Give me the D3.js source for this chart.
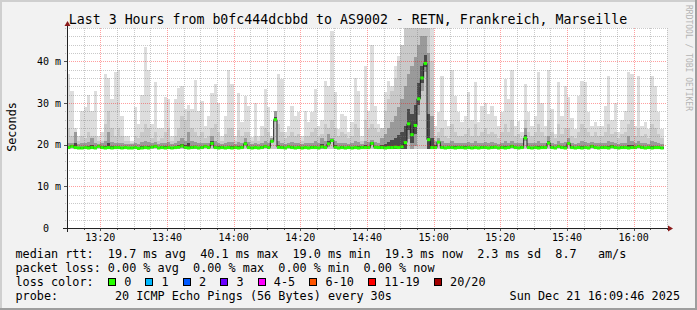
<!DOCTYPE html>
<html>
<head>
<meta charset="utf-8">
<script src="https://cdn.jsdelivr.net/npm/d3@7"></script>
<style>
  html, body { margin: 0; padding: 0; background: #f2f2f2; }
  svg { display: block; }
  text { font-family: "DejaVu Sans Mono", monospace; white-space: pre; }
</style>
</head>
<body>
<svg id="chart" width="697" height="310"></svg>
<script>
const W = 697, H = 310;
const plot = {left: 67, right: 667, top: 28, bottom: 228};

const startTime = new Date(2025, 11, 21, 13, 10);
const endTime = new Date(2025, 11, 21, 16, 10);

// one value per minute, starting 13:10
const maxRtt = [
  37, 33, 24, 22, 28, 29, 32, 28, 33, 22, 23, 37, 36, 31, 37.5,
  38, 27, 22, 22, 21, 29, 25, 32, 43.5, 38, 25, 35, 24, 24, 31.5,
  31, 22, 31, 33.5, 34, 28.5, 29.5, 28.5, 35.5, 28, 30.5, 24.5, 27, 32.5, 34.5,
  30, 22, 27, 38, 34.5, 22, 32.5, 25.4, 31.8, 29.4, 21.8, 30, 22, 24.5, 33.4,
  29, 22, 27, 37, 35.8, 23, 24.5, 29.4, 27, 27.8, 22, 28.2, 25.4, 27.8, 33.4,
  24.5, 26, 35.4, 34, 47.4, 32.6, 23.8, 27.4, 27, 23, 25.4, 36, 33, 22, 39,
  28, 44, 29.4, 25, 22, 32.6, 35.4, 34, 39, 41.4, 43.8, 49, 49, 49, 49,
  49, 49, 49, 49, 49, 24.5, 27.8, 36.6, 26, 24.5, 38, 31.8, 27.8, 25.4, 27,
  32.6, 26, 35, 25.4, 29.4, 30, 27.4, 29.4, 27, 24.5, 27.8, 35.8, 31, 38, 24.5,
  25.8, 23, 34.6, 27.8, 24.5, 27, 37.4, 30, 24.5, 38, 28.6, 22.5, 35, 27, 34,
  31.4, 26.5, 23.8, 31.8, 35.4, 35, 27.8, 24.5, 25.4, 24.5, 24.5, 29.4, 36.6, 26, 30,
  23, 26, 28.2, 37.4, 37, 24.5, 36.6, 24.5, 25.4, 23.8, 36.6, 34, 27.8, 23.8
];
const midRtt = [
  24, 22, 23, 21, 22, 21.5, 23, 22, 22, 21, 21, 25, 28, 24, 22,
  24, 22, 21, 21, 20.5, 22, 21.5, 23, 25, 24, 21.5, 23, 21, 21.5, 23,
  24, 21, 22, 24, 27, 26, 28, 24, 23, 22, 23, 21.5, 22, 24, 25,
  23, 21, 22.5, 24, 24, 21, 23.5, 22, 23, 23, 21, 22, 21, 22, 24,
  23, 21, 27.5, 25, 23, 21.5, 22, 23, 22, 22.5, 21, 22, 22, 23, 24,
  22, 22.5, 25, 24, 26, 24, 22, 23, 22.5, 21.5, 22, 25, 24, 21, 26,
  24, 25, 24, 23, 24, 28, 31, 33, 36, 40, 44, 49, 49, 49, 49,
  49, 49, 49, 49, 40, 22, 23, 24, 22, 21.5, 25, 23, 22, 22, 22.5,
  24, 22, 25, 22, 23, 24, 22.5, 23, 22.5, 21.5, 23, 25, 23, 26, 22,
  22.5, 21.5, 26, 23, 22, 23, 25, 23, 22, 26, 23, 21.5, 25, 22.5, 24,
  24, 22, 21.5, 23, 25, 24, 23, 22, 23, 22, 22, 23, 25, 22.5, 23,
  21.5, 22.5, 23, 25, 26, 22, 24, 22, 22.5, 21.5, 25, 24, 22.5, 21.5
];
const coreRtt = [
  20.3, 20.5, 23, 20.2, 20.4, 20.3, 20.6, 21.5, 20.4, 20.2, 20.3, 20.8, 23, 20.6, 20.3,
  20.5, 20.3, 20.2, 20.2, 20.1, 20.4, 20.2, 20.6, 20.8, 20.6, 20.3, 20.7, 20.2, 20.3, 20.5,
  20.6, 20.2, 20.4, 20.8, 21.5, 21, 23, 20.8, 20.6, 20.3, 20.5, 20.3, 20.4, 22, 20.8,
  20.5, 20.2, 20.4, 20.7, 20.6, 20.2, 20.6, 20.4, 21.5, 20.6, 20.2, 20.4, 20.2, 20.3, 20.8,
  20.5, 21.5, 28, 21, 20.5, 20.2, 20.4, 20.6, 20.3, 20.5, 20.2, 20.3, 20.3, 20.5, 20.8,
  20.3, 21.5, 20.8, 22.5, 21.5, 20.8, 20.3, 20.5, 20.4, 20.2, 20.4, 20.8, 20.6, 20.2, 21,
  20.6, 21.2, 20.6, 20.5, 21.5, 22.5, 24, 25.5, 27, 29, 31, 34, 37, 39, 41,
  44, 46, 46, 42, 27, 21, 21.5, 20.8, 20.4, 20.3, 20.8, 20.5, 20.3, 20.4, 20.5,
  20.7, 20.3, 20.8, 20.3, 20.5, 20.7, 20.4, 20.6, 20.5, 20.2, 20.5, 20.8, 20.5, 21, 20.3,
  20.4, 20.3, 24, 20.5, 20.3, 20.5, 20.8, 20.5, 20.3, 22, 20.5, 20.2, 21, 20.4, 20.7,
  21.5, 20.3, 20.2, 20.5, 20.8, 20.7, 20.4, 20.6, 20.4, 20.3, 20.3, 20.5, 20.8, 20.6, 20.5,
  20.2, 20.4, 20.5, 22, 21, 20.3, 20.8, 20.3, 20.4, 20.2, 20.8, 20.6, 20.4, 20.2
];
const medianRtt = [
  19.3, 19.6, 19.3, 19.2, 19.2, 19.3, 19.2, 19.3, 19.2, 19.6, 19.3, 19.2, 19.3, 19.2, 19.3,
  19.3, 19.2, 19.3, 19.2, 19.2, 19.3, 19.1, 19.2, 19.3, 19.2, 19.4, 19.6, 19.2, 19.3, 19.2,
  19.3, 19.2, 19.3, 19.4, 19.7, 19.3, 19.2, 19.3, 19.4, 19.2, 19.3, 19.6, 19.3, 20.3, 19.3,
  19.2, 19.3, 19.2, 19.3, 19.2, 19.3, 19.2, 19.3, 20.2, 19.3, 19.2, 19.3, 19.2, 19.3, 19.6,
  19.3, 20.8, 26.0, 19.4, 19.3, 19.2, 19.5, 19.3, 19.2, 19.3, 19.2, 19.3, 19.2, 19.3, 19.3,
  19.2, 19.5, 19.3, 20.2, 21.0, 19.4, 19.2, 19.3, 19.2, 19.3, 19.2, 19.3, 19.2, 19.3, 19.3,
  19.3, 20.3, 19.4, 19.3, 19.3, 19.2, 19.3, 19.3, 19.4, 19.3, 19.5, 20.5, 25.0, 22.4, 24.6,
  31.0, 36.0, 39.5, 21.2, 19.3, 19.3, 20.6, 19.3, 19.2, 19.3, 19.3, 19.2, 19.3, 19.3, 19.2,
  19.3, 19.2, 19.3, 19.2, 19.3, 19.3, 19.2, 19.3, 19.4, 19.2, 19.3, 19.2, 19.3, 19.6, 19.3,
  19.2, 19.3, 21.6, 19.3, 19.2, 19.3, 19.2, 19.3, 19.3, 20.4, 19.3, 19.2, 19.6, 19.3, 19.2,
  20.3, 19.3, 19.2, 19.3, 19.2, 19.3, 19.2, 19.6, 19.3, 19.2, 19.3, 19.3, 19.2, 19.5, 19.3,
  19.2, 19.3, 19.3, 19.2, 19.3, 19.3, 19.6, 19.3, 19.2, 19.3, 19.2, 19.3, 19.3, 19.2
];
const minRtt = 19.0;

const yTicks = [0, 10, 20, 30, 40];
const lossLabels = ['0', '1', '2', '3', '4-5', '6-10', '11-19', '20/20'];
const lossColors = ['#26ff00', '#00b8ff', '#0059ff', '#6a00ff', '#ff00ff', '#ff5500', '#ff0000', '#a10000'];

const title = 'Last 3 Hours from b0fc444dcbbd to AS9002 - RETN, Frankreich, Marseille';
const legendLines = [
  'median rtt:  19.7 ms avg  40.1 ms max  19.0 ms min  19.3 ms now  2.3 ms sd  8.7   am/s',
  'packet loss: 0.00 % avg  0.00 % max  0.00 % min  0.00 % now',
  'loss color:',
  'probe:        20 ICMP Echo Pings (56 Bytes) every 30s'
];
const stamp = 'Sun Dec 21 16:09:46 2025';

const svg = d3.select('#chart');

// background + 3d border
svg.append('rect').attr('width', W).attr('height', H).attr('fill', '#f2f2f2');
svg.append('path').attr('d', `M0,${H} V0 H${W}`).attr('fill', 'none')
  .attr('stroke', '#cfcfcf').attr('stroke-width', 4);
svg.append('path').attr('d', `M0,${H} H${W} V0`).attr('fill', 'none')
  .attr('stroke', '#9e9e9e').attr('stroke-width', 4);

const x = d3.scaleTime().domain([startTime, endTime]).range([plot.left, plot.right]);
const y = d3.scaleLinear().domain([0, 48]).range([plot.bottom, plot.top]);

svg.append('rect')
  .attr('x', plot.left).attr('y', plot.top)
  .attr('width', plot.right - plot.left).attr('height', plot.bottom - plot.top)
  .attr('fill', '#fff');

svg.append('clipPath').attr('id', 'clip').append('rect')
  .attr('x', plot.left).attr('y', plot.top)
  .attr('width', plot.right - plot.left).attr('height', plot.bottom - plot.top);

const rows = medianRtt.map((m, i) => ({
  t0: d3.timeMinute.offset(startTime, i),
  t1: d3.timeMinute.offset(startTime, i + 1),
  max: maxRtt[i], mid: midRtt[i], core: coreRtt[i], med: m
}));

const g = svg.append('g').attr('clip-path', 'url(#clip)');

// smoke, light to dark
const smoke = [
  {color: '#dddddd', lo: d => minRtt, hi: d => d.max},
  {color: '#c9c9c9', lo: d => minRtt, hi: d => d.mid},
  {color: '#9a9a9a', lo: d => Math.max(minRtt, d.med - (d.core - d.med) * 0.3), hi: d => d.core},
  {color: '#4a4a4a', lo: d => Math.max(minRtt, d.med - (d.core - d.med) * 0.12), hi: d => d.med + (d.core - d.med) * 0.3}
];
smoke.forEach(s => {
  g.append('g').selectAll('rect')
    .data(rows)
    .join('rect')
      .attr('x', d => x(d.t0))
      .attr('width', d => x(d.t1) - x(d.t0))
      .attr('y', d => y(s.hi(d)))
      .attr('height', d => Math.max(0, y(s.lo(d)) - y(s.hi(d))))
      .attr('fill', s.color)
      .attr('shape-rendering', 'crispEdges');
});

// grid
const minorX = x.ticks(d3.timeMinute.every(5)).filter(t => t.getMinutes() % 20 !== 0);
const majorX = x.ticks(d3.timeMinute.every(20));
const minorY = d3.range(2, 48.1, 2).filter(v => v % 10 !== 0);
const majorY = yTicks.filter(v => v > 0);
const px = v => Math.round(v) + 0.5;

const grid = svg.append('g').attr('fill', 'none').attr('stroke-dasharray', '1,1')
  .attr('shape-rendering', 'crispEdges');
grid.selectAll('.vminor').data(minorX).join('line')
  .attr('x1', d => px(x(d))).attr('x2', d => px(x(d)))
  .attr('y1', plot.top).attr('y2', plot.bottom + 2)
  .attr('stroke', 'rgba(120,120,120,0.4)');
grid.selectAll('.hminor').data(minorY).join('line')
  .attr('y1', d => px(y(d))).attr('y2', d => px(y(d)))
  .attr('x1', plot.left - 2).attr('x2', plot.right)
  .attr('stroke', 'rgba(120,120,120,0.4)');
grid.selectAll('.vmajor').data(majorX).join('line')
  .attr('x1', d => px(x(d))).attr('x2', d => px(x(d)))
  .attr('y1', plot.top).attr('y2', plot.bottom)
  .attr('stroke', 'rgba(255,0,0,0.38)');
grid.selectAll('.hmajor').data(majorY).join('line')
  .attr('y1', d => px(y(d))).attr('y2', d => px(y(d)))
  .attr('x1', plot.left).attr('x2', plot.right)
  .attr('stroke', 'rgba(255,0,0,0.38)');

// axis ticks
const ticks = svg.append('g').attr('stroke', '#555').attr('shape-rendering', 'crispEdges');
ticks.selectAll('.xt').data(majorX.concat(minorX)).join('line')
  .attr('x1', d => px(x(d))).attr('x2', d => px(x(d)))
  .attr('y1', plot.bottom).attr('y2', d => plot.bottom + (d.getMinutes() % 20 === 0 ? 3 : 2));
ticks.selectAll('.yt').data(majorY).join('line')
  .attr('y1', d => px(y(d))).attr('y2', d => px(y(d)))
  .attr('x1', plot.left - 3).attr('x2', plot.left);

// median: black step line + loss-coloured bars
const stepData = rows.map(d => [d.t0, d.med]).concat([[rows[rows.length - 1].t1, rows[rows.length - 1].med]]);
g.append('path')
  .datum(stepData)
  .attr('fill', 'none')
  .attr('stroke', '#202020')
  .attr('stroke-width', 1)
  .attr('d', d3.line().x(d => x(d[0])).y(d => y(d[1])).curve(d3.curveStepAfter));
g.append('g').selectAll('rect')
  .data(rows)
  .join('rect')
    .attr('x', d => x(d.t0))
    .attr('width', d => x(d.t1) - x(d.t0))
    .attr('y', d => y(d.med) - 1.5)
    .attr('height', 3)
    .attr('fill', lossColors[0]);

// axes lines and arrows
svg.append('line').attr('x1', plot.left - 4).attr('x2', plot.right + 1)
  .attr('y1', plot.bottom + 0.5).attr('y2', plot.bottom + 0.5)
  .attr('stroke', '#222').attr('shape-rendering', 'crispEdges');
svg.append('line').attr('x1', plot.left + 0.5).attr('x2', plot.left + 0.5)
  .attr('y1', plot.bottom + 4).attr('y2', plot.top - 2)
  .attr('stroke', '#222').attr('shape-rendering', 'crispEdges');
svg.append('path')
  .attr('d', `M${plot.right + 1},${plot.bottom - 2.5} L${plot.right + 6},${plot.bottom + 0.5} L${plot.right + 1},${plot.bottom + 3.5}Z`)
  .attr('fill', '#8b1a1a');
svg.append('path')
  .attr('d', `M${plot.left - 2.5},${plot.top - 2} L${plot.left + 0.5},${plot.top - 7} L${plot.left + 3.5},${plot.top - 2}Z`)
  .attr('fill', '#8b1a1a');

// tick labels
svg.append('g').selectAll('text').data(majorX).join('text')
  .attr('x', d => x(d)).attr('y', 241)
  .attr('text-anchor', 'middle').attr('font-size', '10px').attr('fill', '#000')
  .text(d3.timeFormat('%H:%M'));
svg.append('g').selectAll('text').data(yTicks).join('text')
  .attr('x', 61).attr('y', d => y(d) + 3.5)
  .attr('text-anchor', 'end').attr('font-size', '10px').attr('fill', '#000')
  .text(d => d === 0 ? '0  ' : `${d} m`);

// y label
svg.append('text')
  .attr('transform', 'translate(15.5,127) rotate(-90)')
  .attr('text-anchor', 'middle').attr('font-size', '11.8px').attr('fill', '#000')
  .text('Seconds');

// title
svg.append('text')
  .attr('x', 348).attr('y', 24)
  .attr('text-anchor', 'middle').attr('font-size', '13.25px').attr('fill', '#000')
  .text(title);

// rrdtool watermark
svg.append('text')
  .attr('transform', 'translate(686,5) rotate(90)')
  .attr('font-size', '8px').attr('fill', '#b4b4b4')
  .text('RRDTOOL / TOBI OETIKER');

// legend
const legendY = [257.5, 271.5, 285.5, 299.5];
svg.append('g').selectAll('text').data(legendLines).join('text')
  .attr('x', 15.5).attr('y', (d, i) => legendY[i])
  .attr('font-size', '11.8px').attr('fill', '#000')
  .text(d => d);
svg.append('text')
  .attr('x', 680).attr('y', legendY[3])
  .attr('text-anchor', 'end').attr('font-size', '11.8px').attr('fill', '#000')
  .text(stamp);

const charW = 7.11;
let bx = 108.5;
const boxes = lossLabels.map((l, i) => {
  const item = {label: l, color: lossColors[i], x: bx};
  bx += 15.7 + l.length * charW + 14.6;
  return item;
});
const lg = svg.append('g').selectAll('g').data(boxes).join('g');
lg.append('rect')
  .attr('x', d => d.x).attr('y', 278.5).attr('width', 7).attr('height', 7)
  .attr('fill', d => d.color).attr('stroke', '#000').attr('shape-rendering', 'crispEdges');
lg.append('text')
  .attr('x', d => d.x + 15.7).attr('y', legendY[2])
  .attr('font-size', '11.8px').attr('fill', '#000')
  .text(d => d.label);
</script>
</body>
</html>
